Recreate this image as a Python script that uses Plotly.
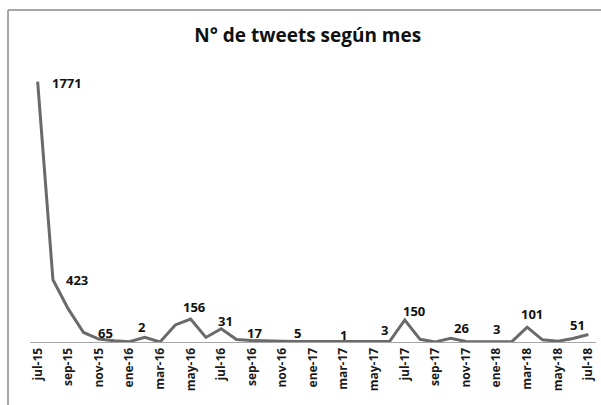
import plotly.graph_objects as go

months = ["jul-15", "ago-15", "sep-15", "oct-15", "nov-15", "dic-15",
          "ene-16", "feb-16", "mar-16", "abr-16", "may-16", "jun-16",
          "jul-16", "ago-16", "sep-16", "oct-16", "nov-16", "dic-16",
          "ene-17", "feb-17", "mar-17", "abr-17", "may-17", "jun-17",
          "jul-17", "ago-17", "sep-17", "oct-17", "nov-17", "dic-17",
          "ene-18", "feb-18", "mar-18", "abr-18", "may-18", "jun-18",
          "jul-18"]

tweets = [1771, 423, 225, 65, 20, 8,
          2, 32, 0, 116, 156, 31,
          90, 17, 10, 5, 5, 3,
          2, 1, 1, 2, 3, 3,
          150, 18, 0, 26, 3, 1,
          3, 2, 101, 15, 5, 24,
          51]

# data labels shown on the chart (month -> label)
label_months = ["jul-15", "ago-15", "oct-15", "ene-16", "may-16", "jun-16", "ago-16",
                "nov-16", "mar-17", "jun-17", "jul-17", "oct-17", "ene-18", "mar-18",
                "jul-18"]
label_texts = ["1771", "423", "65", "2", "156", "31", "17",
               "5", "1", "3", "150", "26", "3", "101",
               "51"]

# placement of each label relative to its point: (xanchor, xshift px, yshift px)
label_place = [("left", 12, -1), ("left", 11, 0), ("left", 12, -1), ("center", 13, 15),
               ("center", 4, 12), ("center", 20, 16), ("center", 18, 7), ("center", 15, 8),
               ("center", 0, 7), ("center", -5, 12), ("center", 9, 9), ("center", 11, 10),
               ("center", 0, 13), ("center", 5, 13), ("center", -11, 10)]

tick_months = months[::2]

fig = go.Figure()
fig.add_trace(go.Scatter(
    x=months, y=tweets, mode="lines",
    line=dict(color="#6a6a6a", width=3),
    hoverinfo="x+y", showlegend=False,
))

annotations = []
for m, t, (xa, xs, ys) in zip(label_months, label_texts, label_place):
    annotations.append(dict(
        x=m, y=tweets[months.index(m)], xref="x", yref="y",
        text=t, showarrow=False, xanchor=xa, yanchor="middle",
        xshift=xs, yshift=ys,
        font=dict(family="Open Sans", size=13, color="#111111", weight="bold"),
    ))

fig.update_layout(
    width=601, height=405,
    margin=dict(l=30, r=5, t=48, b=63),
    paper_bgcolor="white", plot_bgcolor="white",
    title=dict(text="N° de tweets según mes", x=0.512, xanchor="center",
               y=1 - 35 / 405, yanchor="middle",
               font=dict(family="Open Sans", size=19, color="#111111", weight="bold")),
    xaxis=dict(type="category", categoryorder="array", categoryarray=months,
               range=[-0.5, len(months) - 0.5],
               tickmode="array", tickvals=tick_months, ticktext=tick_months,
               tickangle=-90, showgrid=False, showline=True, linecolor="#a6a6a6",
               linewidth=1, ticks="", zeroline=False,
               tickfont=dict(family="Open Sans", size=12, color="#1a1a1a", weight="bold")),
    yaxis=dict(range=[0, 2000], visible=False, showgrid=False, zeroline=False),
    annotations=annotations,
    shapes=[
        dict(type="line", xref="paper", yref="paper",
             x0=(8 - 30) / 566, x1=1.2, y0=(342 - 10) / 294, y1=(342 - 10) / 294,
             line=dict(color="#8a8a8a", width=1.5)),
        dict(type="line", xref="paper", yref="paper",
             x0=(8 - 30) / 566, x1=(8 - 30) / 566, y0=(342 - 10) / 294, y1=-0.5,
             line=dict(color="#8a8a8a", width=1.5)),
    ],
)

fig.write_html("out.html", config={"displayModeBar": False},
               post_script="document.body.style.margin='0';")
